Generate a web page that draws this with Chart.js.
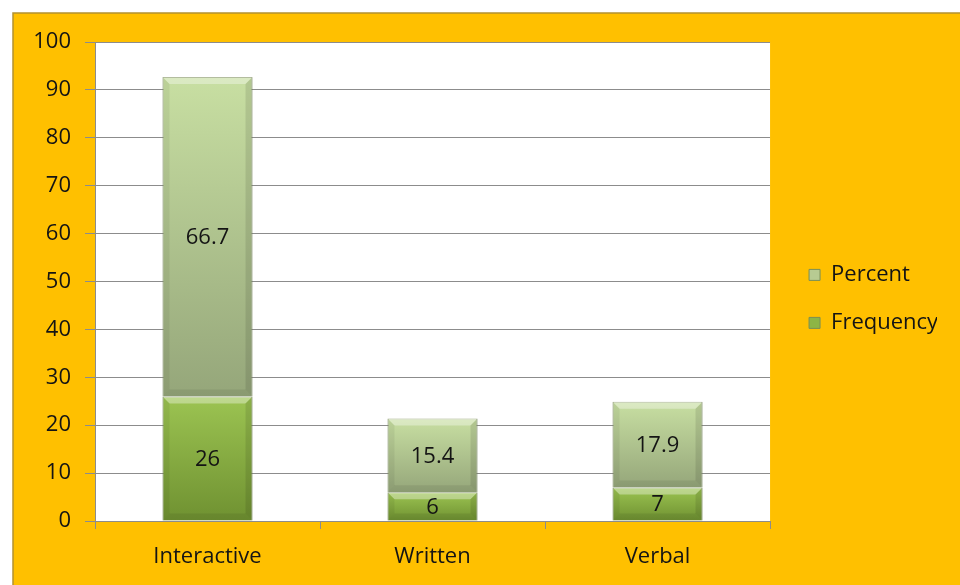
<!DOCTYPE html>
<html>
<head>
<meta charset="utf-8">
<script src="https://cdn.jsdelivr.net/npm/chart.js@4.4.1/dist/chart.umd.min.js"></script>
<style>
    html, body { margin: 0; padding: 0; background: #fff; }
    #wrap { width: 960px; height: 585px; }
</style>
</head>
<body>
<div id="wrap"><canvas id="chart" width="960" height="585"></canvas></div>
<script>
// chart data
const categories = ['Interactive', 'Written', 'Verbal'];
const frequency = [26, 6, 7];
const percent = [66.7, 15.4, 17.9];
const yMin = 0;
const yMax = 100;
const yStep = 10;

const FONT = { family: "'Open Sans', sans-serif", size: 22 };
const TEXT = '#141414';
const GRID = '#8c8c8c';

document.addEventListener('DOMContentLoaded', function() {
    const canvas = document.getElementById('chart');
    const ctx = canvas.getContext('2d');

    // legend width, so the plot ends where the original one does
    ctx.font = FONT.size + 'px ' + FONT.family;
    const legendPad = 26;
    const gapW = 13;
    const legendW = legendPad + 11 + FONT.size / 2 + ctx.measureText('Frequency').width - 1;
    const rightPad = Math.max(0, 960 - 770 - gapW - legendW);

    // vertical gradient over one bar segment
    function barGradient(context, stops, lowerFrom) {
        const chart = context.chart;
        const y = chart.scales.y;
        if (!chart.chartArea || !y || context.dataIndex === undefined) return stops[0];
        const i = context.dataIndex;
        const low = lowerFrom ? lowerFrom[i] : 0;
        const high = low + context.dataset.data[i];
        const top = y.getPixelForValue(high);
        const bottom = y.getPixelForValue(low);
        const g = chart.ctx.createLinearGradient(0, top, 0, bottom);
        g.addColorStop(0, stops[0]);
        g.addColorStop(1, stops[1]);
        return g;
    }

    // orange frame and white plot area
    const backdrop = {
        id: 'backdrop',
        beforeDraw(chart) {
            const c = chart.ctx;
            const a = chart.chartArea;
            c.save();
            c.fillStyle = '#ffffff';
            c.fillRect(0, 0, chart.width, chart.height);
            c.fillStyle = '#ffc000';
            c.fillRect(13, 13, chart.width, chart.height);
            c.strokeStyle = '#b39130';
            c.lineWidth = 1.5;
            c.beginPath();
            c.moveTo(13, chart.height);
            c.lineTo(13, 13);
            c.lineTo(chart.width, 13);
            c.stroke();
            c.fillStyle = '#ffffff';
            c.fillRect(a.left, a.top, a.right - a.left, a.bottom - a.top);
            c.restore();
        }
    };

    // bevel look and value labels on the bars
    const barDecor = {
        id: 'barDecor',
        afterDatasetsDraw(chart) {
            const c = chart.ctx;
            c.save();
            chart.getSortedVisibleDatasetMetas().forEach(meta => {
                meta.data.forEach(bar => {
                    const p = bar.getProps(['x', 'y', 'base', 'width'], true);
                    const l = p.x - p.width / 2, r = p.x + p.width / 2;
                    const t = Math.min(p.y, p.base), b = Math.max(p.y, p.base);
                    const d = Math.min(7, (b - t) / 3);
                    const poly = (pts, fill) => {
                        c.fillStyle = fill;
                        c.beginPath();
                        c.moveTo(pts[0], pts[1]);
                        for (let k = 2; k < pts.length; k += 2) c.lineTo(pts[k], pts[k + 1]);
                        c.closePath();
                        c.fill();
                    };
                    poly([l, t, r, t, r - d, t + d, l + d, t + d], 'rgba(255,255,255,0.35)');
                    poly([l, t, l + d, t + d, l + d, b - d, l, b], 'rgba(0,0,0,0.06)');
                    poly([r, t, r - d, t + d, r - d, b - d, r, b], 'rgba(0,0,0,0.10)');
                    poly([l, b, l + d, b - d, r - d, b - d, r, b], 'rgba(0,0,0,0.07)');
                });
            });
            c.font = FONT.size + 'px ' + FONT.family;
            c.fillStyle = TEXT;
            c.textAlign = 'center';
            c.textBaseline = 'middle';
            chart.getSortedVisibleDatasetMetas().forEach(meta => {
                const data = chart.data.datasets[meta.index].data;
                meta.data.forEach((bar, i) => {
                    const p = bar.getProps(['x', 'y', 'base'], true);
                    c.fillText(String(data[i]), p.x, (p.y + p.base) / 2 + 1);
                });
            });
            c.restore();
        }
    };

    const legendFill = ['#8db545', '#b7cb92'];

    new Chart(ctx, {
        type: 'bar',
        data: {
            labels: categories,
            datasets: [{
                label: 'Frequency',
                data: frequency,
                backgroundColor: c => barGradient(c, ['#9cc452', '#6f9131']),
                borderColor: '#7a8f55',
                borderWidth: 1,
                barPercentage: 0.4,
                categoryPercentage: 1
            }, {
                label: 'Percent',
                data: percent,
                backgroundColor: c => barGradient(c, ['#c8dfa2', '#95a67a'], frequency),
                borderColor: '#8a9a6c',
                borderWidth: 1,
                barPercentage: 0.4,
                categoryPercentage: 1
            }]
        },
        options: {
            responsive: false,
            animation: false,
            devicePixelRatio: 1,
            layout: {
                padding: { left: 13, top: 42, right: rightPad, bottom: 14 }
            },
            plugins: {
                legend: {
                    position: 'right',
                    fullSize: false,
                    reverse: true,
                    // empty title only pushes the two entries down a little
                    title: { display: true, text: '', padding: 0, font: { size: 29 } },
                    labels: {
                        boxWidth: 11,
                        boxHeight: 11,
                        padding: legendPad,
                        color: TEXT,
                        font: FONT,
                        generateLabels: chart => chart.data.datasets.map((ds, i) => ({
                            text: ds.label,
                            fillStyle: legendFill[i],
                            strokeStyle: '#7a8f55',
                            lineWidth: 1,
                            fontColor: TEXT,
                            datasetIndex: i,
                            hidden: false
                        }))
                    }
                },
                tooltip: { enabled: false }
            },
            scales: {
                x: {
                    stacked: true,
                    grid: {
                        offset: true,
                        drawOnChartArea: false,
                        drawTicks: true,
                        tickLength: 8,
                        color: GRID
                    },
                    border: { color: GRID },
                    ticks: { color: TEXT, font: FONT, padding: 15 },
                    afterFit: s => { s.height = 50; }
                },
                y: {
                    stacked: true,
                    min: yMin,
                    max: yMax,
                    ticks: { stepSize: yStep, padding: 14, color: TEXT, font: FONT },
                    grid: { color: GRID, tickLength: 10 },
                    border: { color: GRID },
                    afterFit: s => { s.width = 82; }
                },
                // spacer between the plot and the legend
                gap: {
                    position: 'right',
                    grid: { display: false, drawTicks: false },
                    ticks: { display: false },
                    border: { display: false },
                    afterFit: s => { s.width = gapW; }
                }
            }
        },
        plugins: [backdrop, barDecor]
    });
});
</script>
</body>
</html>
